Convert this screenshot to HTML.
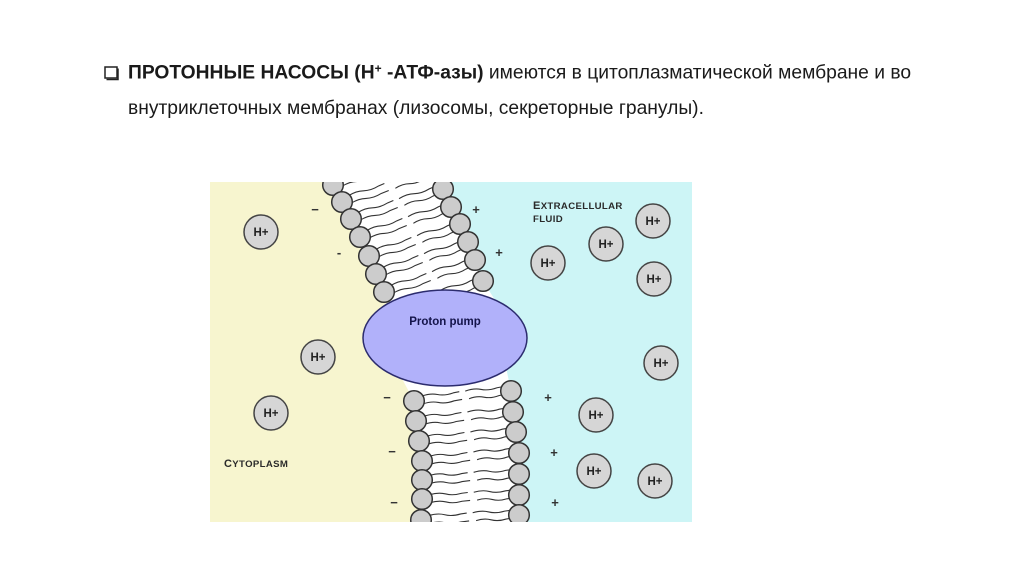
<!DOCTYPE html>
<html lang="ru">
<head>
<meta charset="utf-8">
<title>Протонные насосы</title>
<style>
html,body{margin:0;padding:0;background:#fff;width:1024px;height:574px;overflow:hidden}
svg{display:block}
text{font-family:"Liberation Sans",sans-serif}
.t{font-size:19.25px;fill:#1a1a1a}
.h{font-size:11.5px;font-weight:bold;fill:#222;text-anchor:middle}
.c{font-weight:bold;fill:#2a2a2a;letter-spacing:.35px}
.s{font-size:13px;font-weight:bold;fill:#333;text-anchor:middle}
.l{fill:#ccc;stroke:#333;stroke-width:1.5}
.w{fill:#d6d6d6;stroke:#444;stroke-width:1.5}
.tail{fill:none;stroke:#333;stroke-width:1.1}
</style>
</head>
<body>
<svg width="1024" height="574" viewBox="0 0 1024 574" xmlns="http://www.w3.org/2000/svg">
<defs>
<clipPath id="cp"><rect x="210" y="182" width="482" height="340"/></clipPath>
<g id="row">
<path class="tail" d="M8,-4 q9,-2.2 16,0 t16,0 l6,-.5 M52,-4.5 q9,-2.2 16,0 t16,0 l6,-.5"/>
<path class="tail" d="M8,4 q9,-2.2 16,0 t16,0 l8,-.5 M55,3.5 q8,-2.2 15,0 t15,0 l5,-.5"/>
</g>
</defs>

<rect x="105" y="67" width="12" height="11" fill="none" stroke="#222" stroke-width="1.5"/>
<path d="M118,68.5 V79.5 H106.5" fill="none" stroke="#222" stroke-width="1.5"/>
<text class="t" x="128" y="78.5"><tspan font-weight="bold">ПРОТОННЫЕ НАСОСЫ (Н</tspan><tspan font-weight="bold" font-size="12" dy="-6">+</tspan><tspan font-weight="bold" dy="6"> -АТФ-азы)</tspan> имеются в цитоплазматической мембране и во</text>
<text class="t" x="128" y="114">внутриклеточных мембранах (лизосомы, секреторные гранулы).</text>

<g clip-path="url(#cp)">
<g style="filter:blur(.35px)">
<rect x="210" y="182" width="482" height="340" fill="#fff"/>
<polygon fill="#f7f5cf" points="210,182 333,182 342,202 351,219 360,237 369,256 376,274 384,292 395,310 400,375 414,401 416,421 419,441 422,461 422,522 210,522"/>
<polygon fill="#cdf5f6" points="443,182 451,207 460,224 468,242 475,260 483,281 495,300 507,372 511,391 513,412 516,432 519,453 519,522 692,522 692,182"/>

<g>
<use href="#row" transform="translate(333,185) rotate(-18)"/>
<use href="#row" transform="translate(342,202) rotate(-18)"/>
<use href="#row" transform="translate(351,219) rotate(-18)"/>
<use href="#row" transform="translate(360,237) rotate(-18)"/>
<use href="#row" transform="translate(369,256) rotate(-18)"/>
<use href="#row" transform="translate(376,274) rotate(-18)"/>
<use href="#row" transform="translate(384,292) rotate(-18)"/>
<use href="#row" transform="translate(392,311) rotate(-18)"/>
<use href="#row" transform="translate(414,401) rotate(-6)"/>
<use href="#row" transform="translate(416,421) rotate(-5)"/>
<use href="#row" transform="translate(419,441) rotate(-5)"/>
<use href="#row" transform="translate(422,461) rotate(-5)"/>
<use href="#row" transform="translate(422,480) rotate(-3.5)"/>
<use href="#row" transform="translate(422,499) rotate(-2.5)"/>
<use href="#row" transform="translate(421,520) rotate(-3)"/>
</g>

<g>
<circle class="l" cx="333" cy="185" r="10.3"/>
<circle class="l" cx="342" cy="202" r="10.3"/>
<circle class="l" cx="351" cy="219" r="10.3"/>
<circle class="l" cx="360" cy="237" r="10.3"/>
<circle class="l" cx="369" cy="256" r="10.3"/>
<circle class="l" cx="376" cy="274" r="10.3"/>
<circle class="l" cx="384" cy="292" r="10.3"/>
<circle class="l" cx="443" cy="189" r="10.3"/>
<circle class="l" cx="451" cy="207" r="10.3"/>
<circle class="l" cx="460" cy="224" r="10.3"/>
<circle class="l" cx="468" cy="242" r="10.3"/>
<circle class="l" cx="475" cy="260" r="10.3"/>
<circle class="l" cx="483" cy="281" r="10.3"/>
<circle class="l" cx="414" cy="401" r="10.3"/>
<circle class="l" cx="416" cy="421" r="10.3"/>
<circle class="l" cx="419" cy="441" r="10.3"/>
<circle class="l" cx="422" cy="461" r="10.3"/>
<circle class="l" cx="422" cy="480" r="10.3"/>
<circle class="l" cx="422" cy="499" r="10.3"/>
<circle class="l" cx="421" cy="520" r="10.3"/>
<circle class="l" cx="511" cy="391" r="10.3"/>
<circle class="l" cx="513" cy="412" r="10.3"/>
<circle class="l" cx="516" cy="432" r="10.3"/>
<circle class="l" cx="519" cy="453" r="10.3"/>
<circle class="l" cx="519" cy="474" r="10.3"/>
<circle class="l" cx="519" cy="495" r="10.3"/>
<circle class="l" cx="519" cy="515" r="10.3"/>
</g>

<ellipse cx="445" cy="338" rx="82" ry="48" fill="#b1b1fa" stroke="#2c2c6e" stroke-width="1.5"/>
<text x="445" y="325" font-size="11.5" font-weight="bold" fill="#14144a" text-anchor="middle">Proton pump</text>

<g>
<circle class="w" cx="261" cy="232" r="17"/><text class="h" x="261" y="236">H+</text>
<circle class="w" cx="653" cy="221" r="17"/><text class="h" x="653" y="225">H+</text>
<circle class="w" cx="606" cy="244" r="17"/><text class="h" x="606" y="248">H+</text>
<circle class="w" cx="548" cy="263" r="17"/><text class="h" x="548" y="267">H+</text>
<circle class="w" cx="654" cy="279" r="17"/><text class="h" x="654" y="283">H+</text>
<circle class="w" cx="318" cy="357" r="17"/><text class="h" x="318" y="361">H+</text>
<circle class="w" cx="271" cy="413" r="17"/><text class="h" x="271" y="417">H+</text>
<circle class="w" cx="661" cy="363" r="17"/><text class="h" x="661" y="367">H+</text>
<circle class="w" cx="596" cy="415" r="17"/><text class="h" x="596" y="419">H+</text>
<circle class="w" cx="594" cy="471" r="17"/><text class="h" x="594" y="475">H+</text>
<circle class="w" cx="655" cy="481" r="17"/><text class="h" x="655" y="485">H+</text>
</g>

<text class="s" x="315" y="214">−</text>
<text class="s" x="339" y="257">-</text>
<text class="s" x="476" y="214">+</text>
<text class="s" x="499" y="257">+</text>
<text class="s" x="387" y="402">−</text>
<text class="s" x="392" y="456">−</text>
<text class="s" x="394" y="507">−</text>
<text class="s" x="548" y="402">+</text>
<text class="s" x="554" y="457">+</text>
<text class="s" x="555" y="507">+</text>

<text class="c" x="533" y="209" font-size="9.6"><tspan font-size="11">E</tspan>XTRACELLULAR</text>
<text class="c" x="533" y="222" font-size="9.6">FLUID</text>
<text class="c" x="224" y="467" font-size="9.6"><tspan font-size="11">C</tspan>YTOPLASM</text>
</g>
</g>
</svg>
</body>
</html>
